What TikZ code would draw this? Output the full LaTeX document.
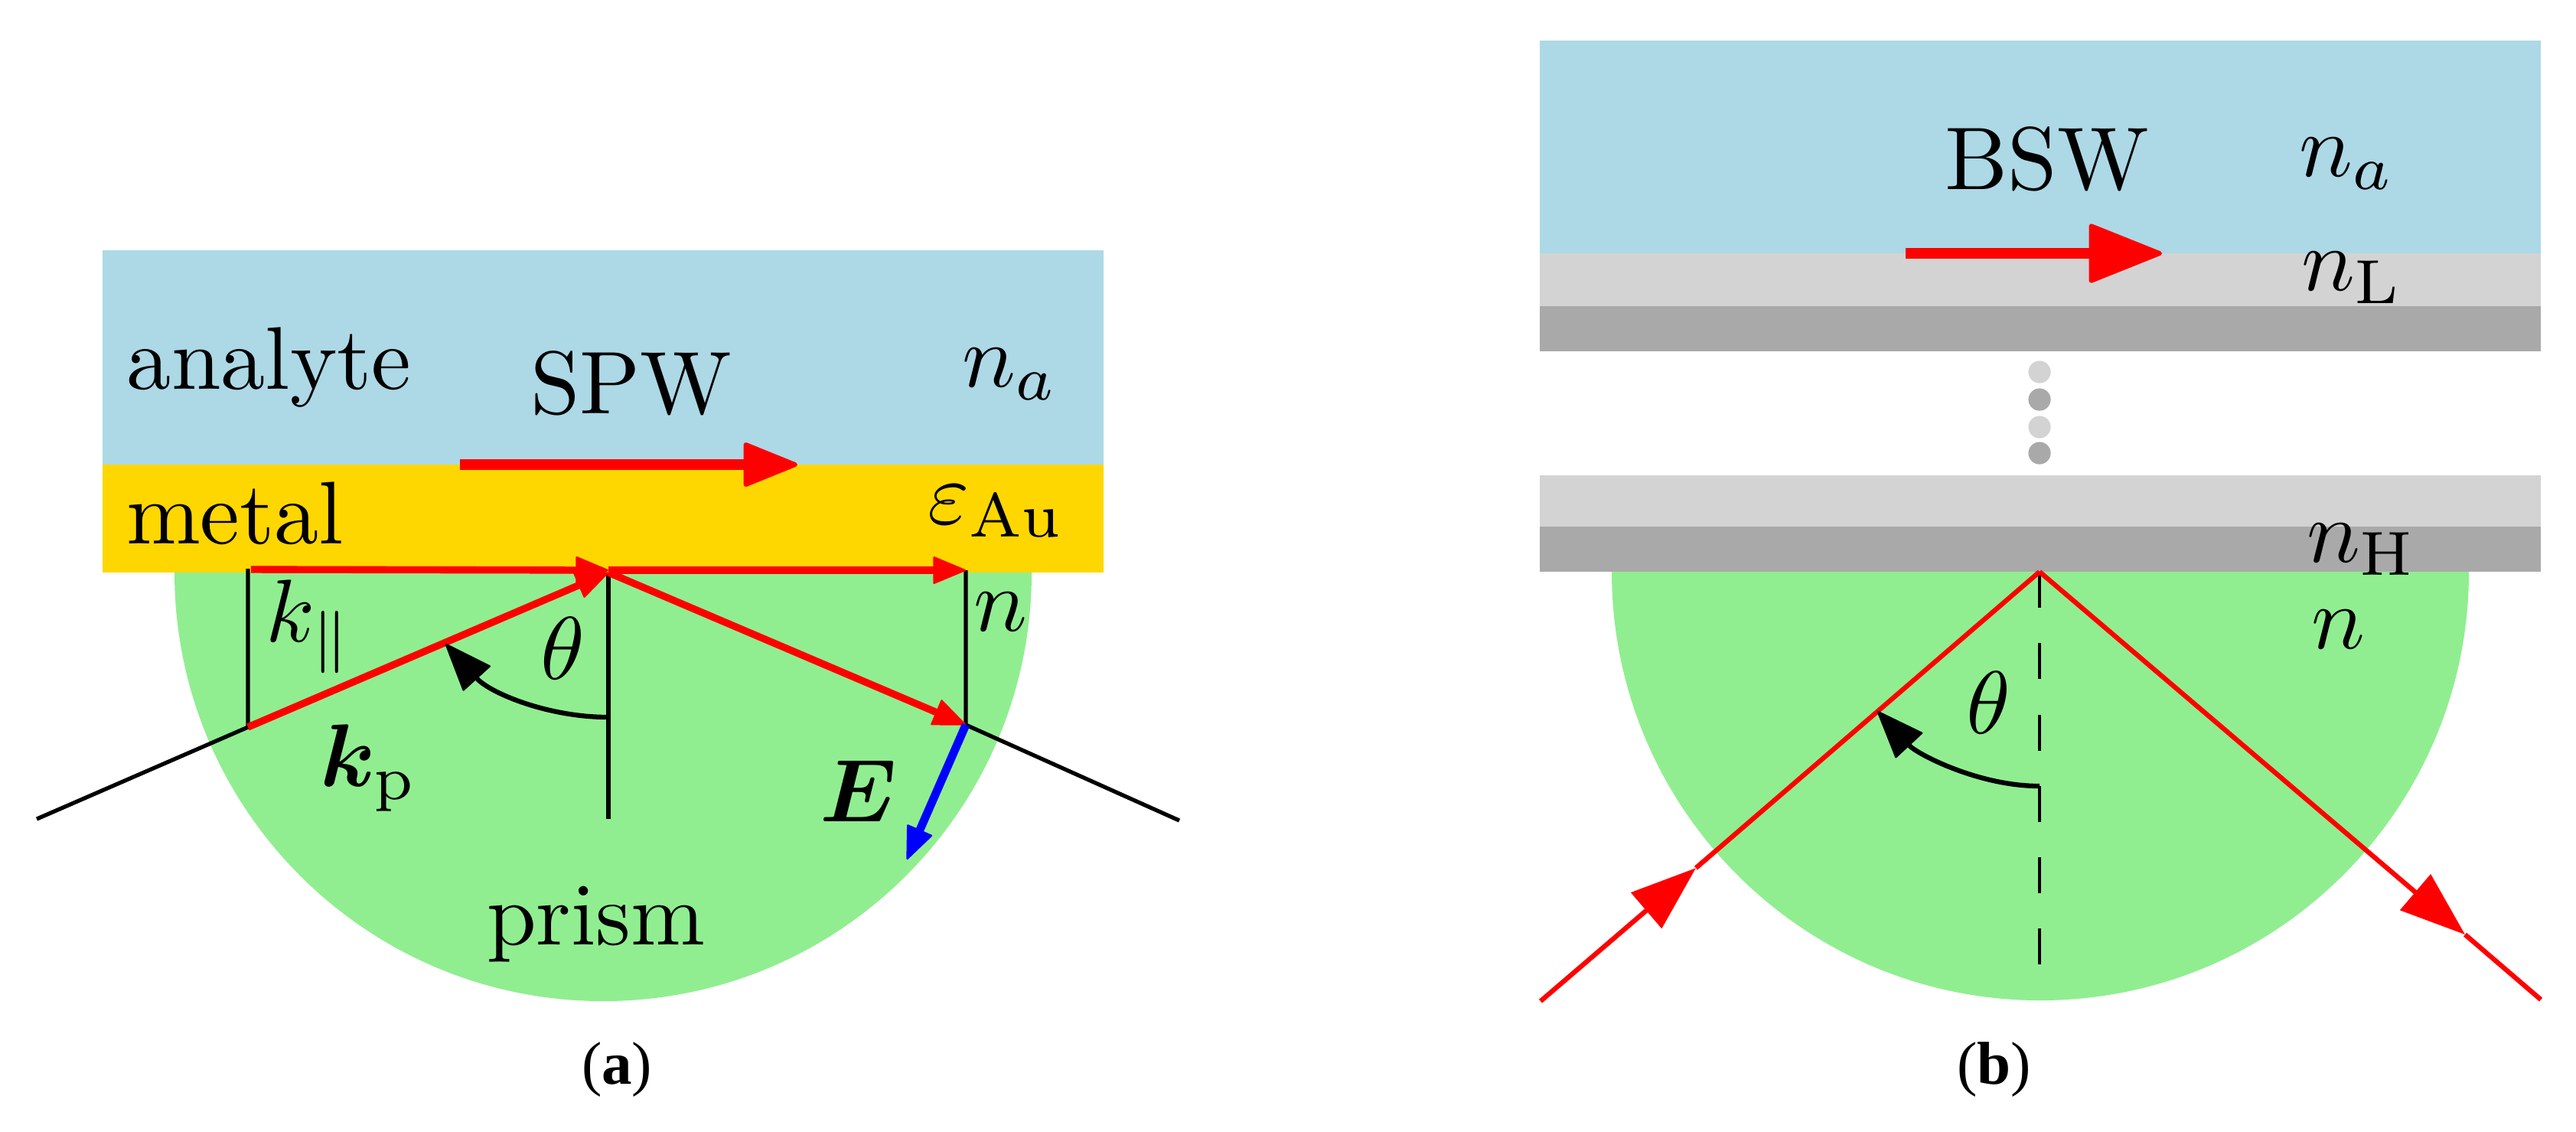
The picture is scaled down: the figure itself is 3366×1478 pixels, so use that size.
\documentclass[tikz,border=0pt]{standalone}
\usepackage{amsmath,amssymb,bm}
\usepackage[no-math]{fontspec}
\newfontfamily\capfont{Liberation Serif}
\usetikzlibrary{arrows.meta}
\definecolor{cblue}{HTML}{ADD8E6}
\definecolor{cgold}{HTML}{FFD700}
\definecolor{cgreen}{HTML}{90EE90}
\definecolor{clight}{HTML}{D3D3D3}
\definecolor{cdark}{HTML}{A9A9A9}
\tikzset{
  x=0.0877pt, y=-0.0877pt,
  lbl/.style={inner sep=0pt, outer sep=0pt, anchor=base west, text=black, scale=1.02},
  capt/.style={lbl, scale=1, font=\capfont\fontsize{6.8}{8}\selectfont},
  blk/.style={draw=black, line width=.46pt},
  rayA/.style={draw=red, line width=.82pt},
  rayB/.style={draw=red, line width=.55pt},
  surf/.style={draw=red, line width=1.25pt, -{Triangle[length=6.6pt,width=5.2pt,round,line width=.5pt]}},
  headA/.style={-{Triangle[length=3.9pt,width=3.2pt,round,line width=.2pt]}},
  headB/.style={-{Triangle[length=7.5pt,width=5.3pt]}},
  headK/.style={-{Triangle[length=5.6pt,width=4.3pt,round,line width=.2pt]}},
  dot/.style={circle, inner sep=0pt, minimum size=2.56pt},
}
\begin{document}
\begin{tikzpicture}
\useasboundingbox (0,0) rectangle (3366,1478);
%% panel a
\fill[cgreen] (228,748) arc[start angle=180,end angle=0,radius=560];
\fill[cblue] (134,327) rectangle (1442,607);
\fill[cgold] (134,607) rectangle (1442,748);
\coordinate (aIn) at (48,1070);
\coordinate (aL) at (324,950);
\coordinate (aLt) at (324,743);
\coordinate (aO) at (795,748);
\coordinate (aOh) at (795,745);
\coordinate (aHs) at (328,744);
\coordinate (aRt) at (1262,745);
\coordinate (aR) at (1262,947);
\coordinate (aOut) at (1541,1072);
\coordinate (aVb) at (795,1070);
\coordinate (aE) at (1185,1123);
\coordinate (aS) at (601,607);
\coordinate (aSt) at (1042,607);
\coordinate (aArc) at (795,937);
\coordinate (aArcT) at (582,841);
\draw[blk] (aIn) -- (aL) -- (aLt);
\draw[blk] (aO) -- (aVb);
\draw[blk] (aRt) -- (aR) -- (aOut);
\draw[rayA,headA] (aHs) -- (aOh);
\draw[rayA,headA] (aOh) -- (aRt);
\draw[rayA,headA] (aL) -- (aO);
\draw[rayA,headA] (aO) -- (aR);
\draw[draw=blue,line width=.95pt,headA] (aR) -- (aE);
\draw[surf] (aS) -- (aSt);
\draw[blk,line width=.55pt,headK] (aArc) .. controls (715,937) and (640,905) .. (aArcT);
\node[lbl] (tAnalyte) at (166,508) {analyte};
\node[lbl] (tSPW) at (693,540) {SPW};
\node[lbl] (tNa) at (1257,505) {$n_a$};
\node[lbl] (tMetal) at (165,710) {metal};
\node[lbl] (tEps) at (1212,684) {$\varepsilon_{\mathrm{Au}}$};
\node[lbl] (tKpar) at (347,838) {$k_{\parallel}$};
\node[lbl] (tTh) at (706,887) {$\theta$};
\node[lbl] (tN) at (1272,824) {$n$};
\node[lbl] (tKp) at (418,1027) {$\bm{k}_{\mathrm{p}}$};
\node[lbl] (tE) at (1071,1073) {$\bm{E}$};
\node[lbl] (tPrism) at (636,1234) {prism};
\node[capt] (capA) at (760,1416) {(\textbf{a})};
%% panel b
\fill[cgreen] (2106,747) arc[start angle=180,end angle=0,radius=560];
\fill[cblue] (2012,53) rectangle (3320,331);
\fill[clight] (2012,331) rectangle (3320,400);
\fill[cdark] (2012,400) rectangle (3320,459);
\fill[clight] (2012,621) rectangle (3320,688);
\fill[cdark] (2012,688) rectangle (3320,747);
\node[dot,fill=clight] (d1) at (2665,486) {};
\node[dot,fill=cdark] (d2) at (2665,522) {};
\node[dot,fill=clight] (d3) at (2665,558) {};
\node[dot,fill=cdark] (d4) at (2665,592) {};
\coordinate (bO) at (2665,747);
\coordinate (bIn) at (2013,1308);
\coordinate (bInT) at (2216,1134);
\coordinate (bOutT) at (3221,1221);
\coordinate (bOut) at (3320,1306);
\coordinate (bD) at (2665,1262);
\coordinate (bS) at (2490,331);
\coordinate (bSt) at (2825,331);
\coordinate (bArc) at (2665,1027);
\coordinate (bArcT) at (2453,929);
\draw[black,line width=.42pt,dash pattern=on 4.12pt off 4.06pt] (bO) -- (bD);
\draw[rayB,headB] (bIn) -- (bInT);
\draw[rayB] (bInT) -- (bO);
\draw[rayB,headB] (bO) -- (bOutT);
\draw[rayB] (bOutT) -- (bOut);
\draw[blk,line width=.55pt,headK] (bArc) .. controls (2585,1027) and (2505,985) .. (bArcT);
\draw[surf,-{Triangle[length=8.8pt,width=6.9pt,round,line width=.5pt]}] (bS) -- (bSt);
\node[lbl] (tBSW) at (2541,247) {BSW};
\node[lbl] (tNa2) at (3004,230) {$n_a$};
\node[lbl] (tNL) at (3007,379) {$n_{\mathrm{L}}$};
\node[lbl] (tNH) at (3014,734) {$n_{\mathrm{H}}$};
\node[lbl] (tN2) at (3020,847) {$n$};
\node[lbl] (tTh2) at (2569,958) {$\theta$};
\node[capt] (capB) at (2557,1416) {(\textbf{b})};
\end{tikzpicture}
\end{document}
